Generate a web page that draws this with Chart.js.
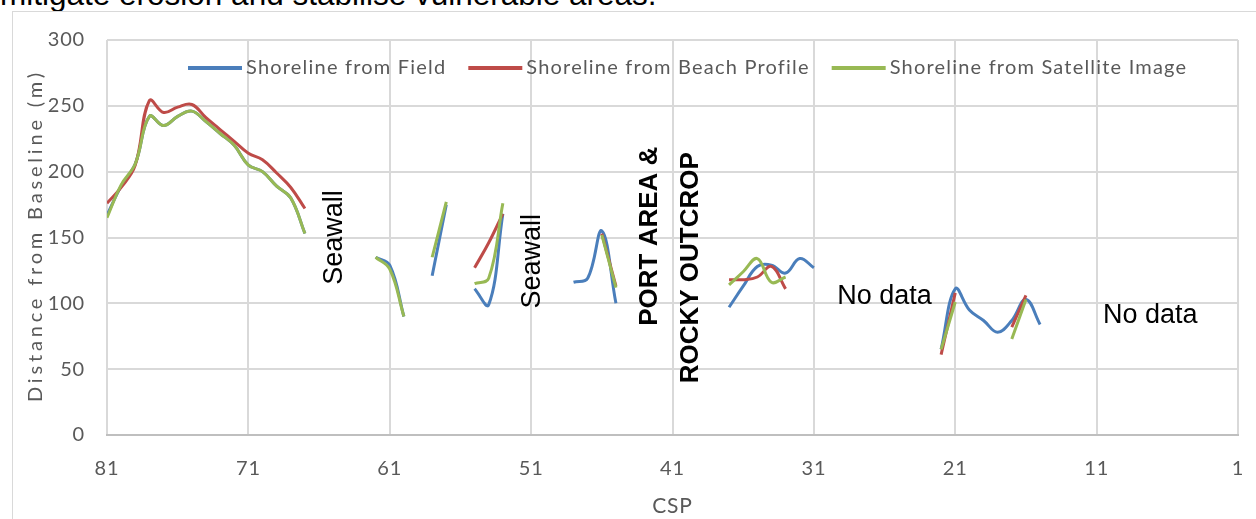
<!DOCTYPE html>
<html>
<head>
<meta charset="utf-8">
<script src="https://cdn.jsdelivr.net/npm/chart.js@4.4.1/dist/chart.umd.min.js"></script>
<style>
  html, body { margin: 0; padding: 0; background: #fff; }
  #page { position: relative; width: 1256px; height: 519px; overflow: hidden; }
  #lead { position: absolute; left: 0; top: -21px; font: 31.5px "Liberation Sans", Arial, sans-serif; line-height: 30px; color: #000; white-space: nowrap; }
  #frame { position: absolute; left: 12px; top: 11px; width: 1260px; height: 520px; border: 1px solid #d9d9d9; box-sizing: border-box; }
  canvas { position: absolute; left: 0; top: 0; }
</style>
</head>
<body>
<div id="page">
  <div id="lead">mitigate erosion and stabilise vulnerable areas.</div>
  <div id="frame"></div>
  <canvas id="c" width="1256" height="519"></canvas>
</div>
<script>
// Cross-shore profile numbers (CSP), listed north to south
const csp = [
  81, 80, 79, 78, 77, 76, 75, 74, 73, 72,
  71, 70, 69, 68, 67, 66, 65, 64, 63, 62,
  61, 60, 59, 58, 57, 56, 55, 54, 53, 52,
  51, 50, 49, 48, 47, 46, 45, 44, 43, 42,
  41, 40, 39, 38, 37, 36, 35, 34, 33, 32,
  31, 30, 29, 28, 27, 26, 25, 24, 23, 22,
  21, 20, 19, 18, 17, 16, 15
];

// Distance from baseline (m); null where no shoreline was mapped
const shorelineField = [
  167, 189, 206, 242, 235, 242, 246, 238, 229, 220,
  205, 200, 189, 180, 153, null, null, null, null, 135,
  129, 90, null, 121, 175, null, 111, 99, 168, null,
  null, null, null, 116, 119, 155, 100, null, null, null,
  null, null, null, null, 97, 113, 128, 129, 123, 134,
  127, null, null, null, null, null, null, null, null, 65,
  111, 95, 87, 78, 87, 103, 84
];
const shorelineBeachProfile = [
  176, 188, 205, 254, 245, 249, 251, 241, 232, 223,
  214, 209, 199, 188, 172, null, null, null, null, null,
  null, null, null, null, null, null, 127, 146, 168, null,
  null, null, null, null, null, 153, 113, null, null, null,
  null, null, null, null, 118, 118, 120, 128, 111, null,
  null, null, null, null, null, null, null, null, null, 61,
  108, null, null, null, 82, 106, null
];
const shorelineSatellite = [
  165, 190, 206, 242, 235, 242, 246, 238, 229, 220,
  205, 200, 189, 180, 153, null, null, null, null, 135,
  126, 90, null, 135, 177, null, 115, 119, 176, null,
  null, null, null, null, null, 152, 112, null, null, null,
  null, null, null, null, 114, 124, 134, 116, 120, null,
  null, null, null, null, null, null, null, null, null, 65,
  101, null, null, null, 73, 103, null
];

const xTicks = [81, 71, 61, 51, 41, 31, 21, 11, 1];
const yTicks = [0, 50, 100, 150, 200, 250, 300];

const seriesLabels = ['Shoreline from Field', 'Shoreline from Beach Profile', 'Shoreline from Satellite Image'];
const seriesColors = ['#4a7ebb', '#be4b48', '#98b954'];

const toPoints = vals => csp.map((c, i) => ({ x: c, y: vals[i] }));

const GREY = '#595959';
const UI_FONT = 'Lato, "Open Sans", sans-serif';
const NOTE_FONT = '"Liberation Sans", Arial, sans-serif';

// Slightly open letter spacing for the axis text
const textSpacing = {
  id: 'textSpacing',
  beforeDraw(chart) { chart.ctx.letterSpacing = '0.8px'; },
  afterDraw(chart) { chart.ctx.letterSpacing = '0px'; }
};

// Legend drawn over the top of the plot area
const legendOverlay = {
  id: 'legendOverlay',
  afterDatasetsDraw(chart) {
    const ctx = chart.ctx;
    ctx.save();
    ctx.font = '20px ' + UI_FONT;
    ctx.letterSpacing = '1.2px';
    ctx.textBaseline = 'middle';
    let x = 188;
    const y = 68;
    chart.data.datasets.forEach(ds => {
      ctx.strokeStyle = ds.borderColor;
      ctx.lineWidth = 4;
      ctx.beginPath();
      ctx.moveTo(x, y);
      ctx.lineTo(x + 54, y);
      ctx.stroke();
      x += 58;
      ctx.fillStyle = GREY;
      ctx.fillText(ds.label, x, y);
      x += ctx.measureText(ds.label).width + 22;
    });
    ctx.restore();
  }
};

// Coastal notes written across the plot
const notes = [
  { text: 'Seawall', x: 64.9, y: 150, rotate: true, bold: false, size: 27 },
  { text: 'Seawall', x: 50.9, y: 132, rotate: true, bold: false, size: 27 },
  { text: 'PORT AREA &', x: 42.6, y: 151, rotate: true, bold: true, size: 26 },
  { text: 'ROCKY OUTCROP', x: 39.7, y: 127, rotate: true, bold: true, size: 26 },
  { text: 'No data', x: 26.0, y: 105, rotate: false, bold: false, size: 27 },
  { text: 'No data', x: 7.2, y: 91, rotate: false, bold: false, size: 27 }
];
const notesOverlay = {
  id: 'notesOverlay',
  afterDatasetsDraw(chart) {
    const { ctx, scales } = chart;
    ctx.save();
    ctx.letterSpacing = '0px';
    ctx.fillStyle = '#000';
    ctx.textAlign = 'center';
    ctx.textBaseline = 'middle';
    notes.forEach(n => {
      const px = scales.x.getPixelForValue(n.x);
      const py = scales.y.getPixelForValue(n.y);
      ctx.save();
      ctx.translate(px, py);
      if (n.rotate) ctx.rotate(-Math.PI / 2);
      ctx.font = (n.bold ? 'bold ' : '') + n.size + 'px ' + NOTE_FONT;
      ctx.fillText(n.text, 0, 0);
      ctx.restore();
    });
    ctx.restore();
  }
};

// Vertical axis title, letter-spaced
const yTitle = {
  id: 'yTitle',
  afterDraw(chart) {
    const { ctx, chartArea } = chart;
    const text = 'Distance from Baseline (m)';
    ctx.save();
    ctx.font = '20px ' + UI_FONT;
    ctx.letterSpacing = '0px';
    const w = ctx.measureText(text).width;
    const spacing = Math.max(0, (329 - w) / (text.length - 1));
    ctx.letterSpacing = spacing + 'px';
    ctx.fillStyle = GREY;
    ctx.textAlign = 'center';
    ctx.textBaseline = 'middle';
    ctx.translate(36, (chartArea.top + chartArea.bottom) / 2);
    ctx.rotate(-Math.PI / 2);
    ctx.fillText(text, spacing / 2, 0);
    ctx.restore();
  }
};

// Field first (underneath), satellite last (on top)
const datasets = [shorelineField, shorelineBeachProfile, shorelineSatellite].map((vals, i) => ({
  label: seriesLabels[i],
  data: toPoints(vals),
  borderColor: seriesColors[i],
  backgroundColor: seriesColors[i],
  borderWidth: 3,
  pointRadius: 0,
  tension: 0.4,
  spanGaps: false,
  fill: false,
  order: 3 - i
}));

new Chart(document.getElementById('c'), {
  type: 'line',
  data: { datasets },
  plugins: [textSpacing, legendOverlay, notesOverlay, yTitle],
  options: {
    responsive: false,
    animation: false,
    events: [],
    layout: { padding: { top: 40, right: 18, left: 0, bottom: 0 } },
    plugins: { legend: { display: false }, tooltip: { enabled: false } },
    scales: {
      x: {
        type: 'linear',
        reverse: true,
        min: 1,
        max: 81,
        afterBuildTicks: s => { s.ticks = xTicks.map(v => ({ value: v })); },
        afterFit: s => { s.height = 84; s.paddingLeft = 0; s.paddingRight = 0; },
        grid: { color: '#d9d9d9', lineWidth: 2, drawTicks: false },
        border: { color: '#bfbfbf', width: 2 },
        ticks: { color: GREY, font: { family: UI_FONT, size: 20 }, padding: 22, maxRotation: 0, autoSkip: false },
        title: { display: true, text: 'CSP', color: GREY, font: { family: UI_FONT, size: 21 }, padding: { top: 0, bottom: 0 } }
      },
      y: {
        min: 0,
        max: 300,
        afterBuildTicks: s => { s.ticks = yTicks.map(v => ({ value: v })); },
        afterFit: s => { s.width = 107; s.paddingTop = 0; s.paddingBottom = 0; },
        grid: { color: '#d9d9d9', lineWidth: 2, drawTicks: false },
        border: { display: false },
        ticks: { color: GREY, font: { family: UI_FONT, size: 20 }, padding: 22 }
      }
    }
  }
});
</script>
</body>
</html>
